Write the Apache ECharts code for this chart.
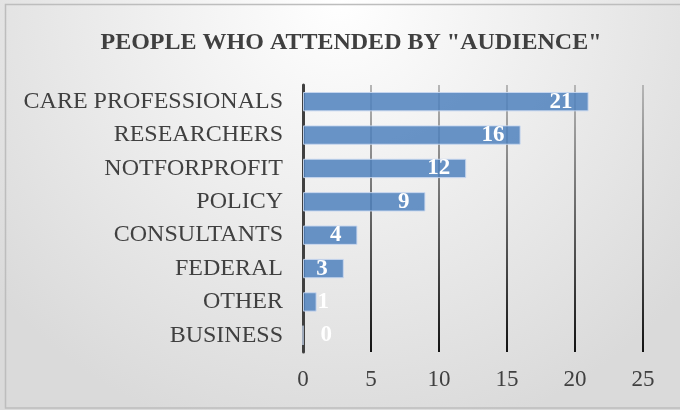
<!DOCTYPE html>
<html><head><meta charset="utf-8">
<script src="https://cdn.jsdelivr.net/npm/echarts@6/dist/echarts.min.js"></script>
<style>html,body{margin:0;padding:0;background:#fff}#c{width:680px;height:410px}</style>
</head><body><div id="c"></div>
<script>
const categories = ['CARE PROFESSIONALS','RESEARCHERS','NOTFORPROFIT','POLICY','CONSULTANTS','FEDERAL','OTHER','BUSINESS'];
const values = [21,16,12,9,4,3,1,0];
const xTicks = [0,5,10,15,20,25];

const serif = '"Liberation Serif", "Times New Roman", serif';
const chart = echarts.init(document.getElementById('c'));
const grad = new echarts.graphic.LinearGradient(0,0,0,1,[{offset:0,color:'#b8b8b8'},{offset:1,color:'#111'}]);
chart.setOption({
  backgroundColor: {type:'radial', x:0.5, y:0, r:1.1, colorStops:[{offset:0,color:'#ffffff'},{offset:1,color:'#dadada'}]},
  animation:false,
  title:{text:'PEOPLE WHO ATTENDED BY "AUDIENCE"', left:346, textAlign:'center', top:26,
    textStyle:{fontFamily:serif, fontWeight:'bold', fontSize:24, color:'#404040'}},
  graphic:[{type:'rect', shape:{x:5.5,y:4.5,width:680,height:403.5}, style:{fill:null, stroke:'#bdbdbd', lineWidth:1.5}, silent:true}],
  grid:{left:303, right:37, top:85, bottom:58},
  xAxis:{type:'value', min:xTicks[0], max:xTicks[xTicks.length-1], interval:5,
    axisLine:{show:false}, axisTick:{show:false},
    axisLabel:{fontFamily:serif, fontSize:23, color:'#404040', margin:16},
    splitLine:{show:true, lineStyle:{color:grad, width:2}}},
  yAxis:{type:'category', data:categories, inverse:true,
    axisLine:{show:true, lineStyle:{color:'#404040', width:3}}, axisTick:{show:false},
    axisLabel:{fontFamily:serif, fontSize:24, color:'#404040', margin:20}},
  series:[{type:'bar', barWidth:'58%',
    data: values.map(v => v >= 3 ? v : {value:v, label:{position:'right', distance: v===0 ? 17 : 1}}),
    itemStyle:{color:'rgba(79,129,189,0.85)', borderColor:'rgba(200,215,240,0.9)', borderWidth:1},
    label:{show:true, position:'insideRight', distance:16, fontFamily:serif, fontWeight:'bold', fontSize:23, color:'#fff'}}]
});
</script></body></html>
